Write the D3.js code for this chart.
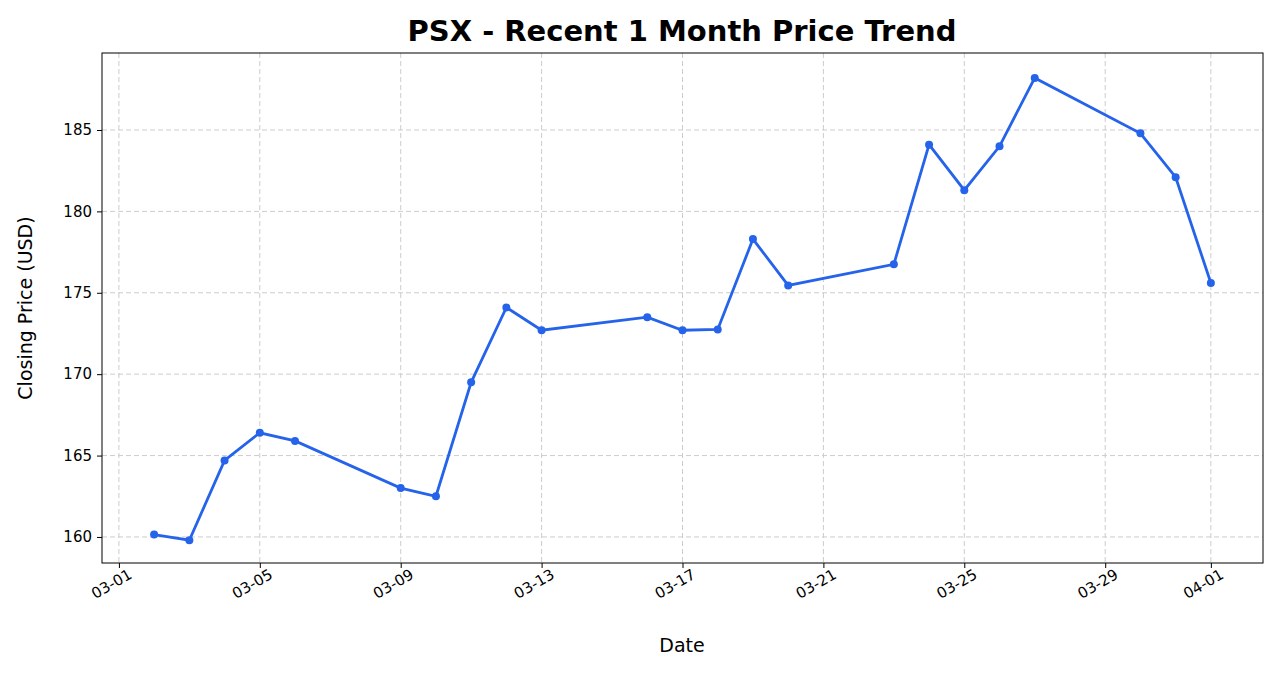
<!DOCTYPE html>
<html><head><meta charset="utf-8">
<script src="https://cdn.jsdelivr.net/npm/d3@7"></script>
<style>body{margin:0;background:#fff}svg,svg text{font-family:"DejaVu Sans",sans-serif}</style>
</head><body><svg id="c" width="1279" height="673"></svg>
<script>
const dates=["2025-03-02","2025-03-03","2025-03-04","2025-03-05","2025-03-06","2025-03-09","2025-03-10","2025-03-11","2025-03-12","2025-03-13","2025-03-16","2025-03-17","2025-03-18","2025-03-19","2025-03-20","2025-03-23","2025-03-24","2025-03-25","2025-03-26","2025-03-27","2025-03-30","2025-03-31","2025-04-01"];
const prices=[160.15,159.8,164.7,166.4,165.9,163.0,162.5,169.5,174.1,172.7,173.5,172.7,172.75,178.3,175.45,176.75,184.1,181.3,184.0,188.2,184.8,182.1,175.6];
const xTicks=["2025-03-01","2025-03-05","2025-03-09","2025-03-13","2025-03-17","2025-03-21","2025-03-25","2025-03-29","2025-04-01"];
const yTicks=[160,165,170,175,180,185];
const P=d3.utcParse("%Y-%m-%d"),fmt=d3.utcFormat("%m-%d");
const data=dates.map((d,i)=>({d:P(d),v:prices[i]}));
const L=102,R=1263,T=53,B=563,day=864e5;
const x=d3.scaleUtc().domain([new Date(+P("2025-03-01")-0.48*day),new Date(+P("2025-04-01")+1.48*day)]).range([L,R]);
const y=d3.scaleLinear().domain([158.4,189.73]).range([B,T]);
const svg=d3.select("#c");
const g=svg.append("g");
xTicks.forEach(t=>g.append("line").attr("x1",x(P(t))).attr("x2",x(P(t))).attr("y1",T).attr("y2",B).attr("stroke","#ccc").attr("stroke-dasharray","5,3"));
yTicks.forEach(t=>g.append("line").attr("y1",y(t)).attr("y2",y(t)).attr("x1",L).attr("x2",R).attr("stroke","#ccc").attr("stroke-dasharray","5,3"));
const xa=svg.append("g").attr("transform",`translate(0,${B})`).call(d3.axisBottom(x).tickValues(xTicks.map(P)).tickFormat(fmt).tickSizeOuter(0).tickSize(5));
xa.attr("font-size",null).attr("font-family",null);
xa.selectAll("text").style("font-size","15px").attr("fill","#000").attr("text-anchor","end").attr("y",8).attr("dx","0.3em").attr("dy","0.75em").attr("transform","rotate(-30)");
const ya=svg.append("g").attr("transform",`translate(${L},0)`).call(d3.axisLeft(y).tickValues(yTicks).tickSizeOuter(0).tickSize(5).tickPadding(5));
ya.attr("font-size",null).attr("font-family",null);
ya.selectAll("text").style("font-size","15px").attr("fill","#000");
svg.selectAll(".domain").remove();
svg.append("rect").attr("x",L).attr("y",T).attr("width",R-L).attr("height",B-T).attr("fill","none").attr("stroke","#000");
svg.append("path").datum(data).attr("fill","none").attr("stroke","#2563eb").attr("stroke-width",2.8).attr("d",d3.line().x(d=>x(d.d)).y(d=>y(d.v)));
svg.selectAll("circle").data(data).join("circle").attr("cx",d=>x(d.d)).attr("cy",d=>y(d.v)).attr("r",4).attr("fill","#2563eb");
svg.append("text").attr("x",682).attr("y",41).attr("text-anchor","middle").style("font-size","29px").attr("font-weight","bold").text("PSX - Recent 1 Month Price Trend");
svg.append("text").attr("x",682).attr("y",652).attr("text-anchor","middle").style("font-size","19px").text("Date");
svg.append("text").attr("transform","translate(32,308) rotate(-90)").attr("text-anchor","middle").style("font-size","19px").text("Closing Price (USD)");
</script></body></html>
